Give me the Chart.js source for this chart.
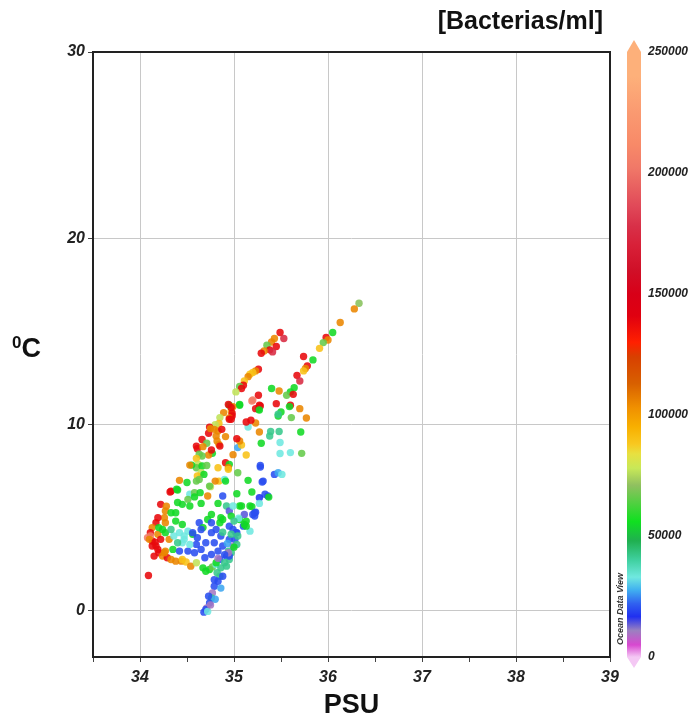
<!DOCTYPE html>
<html>
<head>
<meta charset="utf-8">
<script src="https://cdn.jsdelivr.net/npm/chart.js@4.4.1/dist/chart.umd.min.js"></script>
<style>
  html, body { margin: 0; padding: 0; background: #fff; }
  #wrap { position: relative; width: 700px; height: 722px; font-family: "Liberation Sans", Arial, sans-serif; }
  #titulo { position: absolute; right: 97px; top: 6px; font-size: 25px; font-weight: bold; color: #111; }
  #ylab { position: absolute; left: 12px; top: 333px; font-size: 27px; font-weight: bold; color: #111; }
  #ylab span { font-size: 17px; vertical-align: 9px; }
  #odv { position: absolute; left: 575px; top: 604px; width: 90px; font-size: 9px; font-style: italic; font-weight: bold; color: #333; transform: rotate(-90deg); white-space: nowrap; text-align: center; }
</style>
</head>
<body>
<div id="wrap">
  <canvas id="grafica" width="700" height="722"></canvas>
  <div id="titulo">[Bacterias/ml]</div>
  <div id="ylab"><span>0</span>C</div>
  <div id="odv">Ocean Data View</div>
</div>
<script>
// ejes
const xTicks = [33.5, 34, 34.5, 35, 35.5, 36, 36.5, 37, 37.5, 38, 38.5, 39]
const yTicks = [-2.5, 0, 10, 20, 30]
const cbTicks = [0, 50000, 100000, 150000, 200000, 250000]

// niveles de color (bacterias/ml)
const P = 10000, B = 20000, LB = 27000, C = 33000, T = 42000, G = 55000
const LG = 66000, YG = 77000, Y = 90000, O = 105000, R = 138000, PR = 175000, S = 205000

// salinidad (PSU)
const salinidad = [
  36.33,36.28,36.13,36.05,35.98,36.00,35.95,35.91,35.84,35.74,35.78,35.76,35.74,35.67,35.64,35.70,35.60,35.56,35.63,35.48,
  35.40,35.45,35.50,35.47,35.60,35.59,35.70,35.61,35.77,35.71,35.72,35.60,35.49,35.49,35.48,35.39,35.38,35.29,35.27,35.23,
  35.15,35.18,35.13,35.13,35.04,35.08,35.06,35.03,34.99,35.15,35.04,35.28,35.28,35.31,35.43,35.47,35.51,35.19,35.33,35.27,
  35.36,35.03,35.37,35.30,35.19,35.28,35.26,35.47,
  35.49,35.53,35.43,35.40,35.45,35.35,35.38,35.41,35.32,35.29,35.26,35.23,35.20,35.17,35.15,35.11,35.10,35.06,35.08,35.02,
  35.26,35.20,35.27,35.23,35.27,35.06,34.95,34.97,34.99,34.98,34.98,34.95,34.89,34.85,34.84,34.80,34.74,34.79,34.73,34.83,
  34.81,34.91,34.87,34.95,34.66,34.71,34.60,34.61,34.67,34.82,34.84,34.77,34.85,34.73,34.76,34.63,34.66,34.60,34.62,34.60,
  34.66,34.55,34.53,34.71,34.65,34.61,34.68,34.63,34.60,34.83,34.84,34.91,34.95,34.94,34.90,34.91,34.80,34.50,34.42,34.33,
  34.40,34.53,34.58,34.64,34.72,34.88,34.94,34.97,35.06,34.97,34.75,34.94,34.75,34.39,34.32,34.74,
  34.83,34.22,34.27,34.33,34.38,34.45,34.51,34.53,34.65,34.76,34.86,34.92,34.95,35.06,35.17,35.22,35.13,34.26,34.27,34.17,
  34.13,34.11,34.08,34.13,34.17,34.15,34.20,34.24,34.27,34.19,34.22,34.24,34.31,34.35,34.29,34.33,34.38,34.44,34.49,34.54,
  34.60,34.67,34.74,34.70,34.77,34.09,34.38,34.45,34.51,34.42,34.36,34.47,34.56,34.61,34.63,34.67,34.72,34.76,34.81,34.85,
  34.88,34.95,34.99,35.03,35.10,35.17,35.22,34.42,34.51,34.58,34.65,34.69,34.76,34.83,34.88,34.70,34.79,34.60,34.53,34.45,
  34.92,34.95,34.99,34.94,34.85,34.81,34.86,34.85,34.83,34.79,34.77,34.76,34.74,34.71,34.68,34.70,34.73,34.79,34.82,34.90,
  34.95,34.97,35.01,35.03,35.06,35.11,35.13,34.99,35.08,35.19,35.20,35.23,35.27,35.05,35.11,35.02,35.04,35.00,34.95,34.92,
  34.88,34.19,34.11,34.10,34.16,34.13,34.19,34.26,34.45,34.81,34.20,34.27,34.33,34.40,34.47,34.56,34.65,34.76,34.86,34.94,
  34.97,34.28,34.40,34.58,34.90,34.93,34.97,34.86,34.80,34.72,34.75,34.83,34.88,35.00
]

// temperatura (ºC)
const temperatura = [
  16.50,16.20,15.47,14.93,14.66,14.53,14.39,14.08,13.46,13.64,13.14,13.00,12.87,12.63,11.97,12.33,11.74,11.56,11.61,11.79,
  11.92,11.11,10.66,10.45,11.02,10.95,10.84,10.36,10.34,9.59,8.44,8.48,8.43,9.02,9.61,9.62,9.37,8.98,9.59,10.07,
  9.85,10.22,10.12,8.35,8.75,8.89,9.10,9.23,8.37,6.99,7.40,7.70,7.79,6.95,7.31,7.40,7.31,6.36,6.24,6.06,
  6.15,6.27,6.09,6.90,11.25,10.98,10.81,10.54,
  14.93,14.61,14.61,14.42,14.18,14.25,14.00,13.89,13.94,13.82,12.96,12.87,12.78,12.69,12.56,12.33,12.10,12.03,11.92,11.74,
  11.56,11.31,11.02,10.84,10.77,11.02,11.02,10.72,10.95,10.59,10.45,10.34,10.63,10.36,10.05,9.98,9.85,9.73,9.52,9.64,
  9.37,9.34,9.73,10.27,9.19,8.98,8.83,8.69,8.80,9.10,8.92,8.44,8.83,8.35,8.62,8.39,8.30,8.16,7.85,7.67,
  7.76,7.81,7.81,7.79,7.40,7.22,7.31,7.04,6.95,7.67,6.95,7.94,7.85,7.67,7.04,6.95,6.95,6.87,6.99,6.41,
  6.47,6.24,6.33,6.33,6.15,6.15,11.07,10.90,11.07,10.27,9.77,7.58,6.65,6.51,6.36,6.68,
  5.75,5.70,5.34,5.25,5.25,5.70,5.97,5.61,5.75,5.16,4.98,5.61,5.34,5.61,5.61,5.25,4.80,4.98,4.71,4.71,
  4.45,4.18,3.91,3.73,3.46,2.92,3.10,2.92,3.19,4.09,3.82,4.35,3.82,3.28,2.83,2.74,2.65,2.65,2.60,2.38,
  2.56,2.29,2.20,2.11,2.34,1.88,4.80,4.62,4.26,4.18,4.00,3.82,4.09,3.91,4.71,4.45,4.89,4.18,4.35,4.71,
  4.89,4.53,4.35,4.18,4.53,4.26,5.07,3.19,3.19,3.10,3.28,2.83,3.01,3.19,3.46,3.64,3.64,3.55,3.55,3.64,
  2.92,3.82,3.46,3.19,2.74,2.47,2.29,1.84,1.57,1.30,0.94,0.67,0.40,0.13,-0.09,0.05,0.76,1.65,2.03,2.56,
  2.74,3.10,3.82,3.55,4.89,5.16,4.53,5.61,5.61,5.58,5.16,5.28,5.75,4.95,4.62,4.18,4.00,3.40,2.92,2.38,
  1.84,4.98,4.00,3.82,3.67,3.46,3.28,3.10,2.74,2.56,4.45,4.18,4.35,3.64,4.00,4.18,4.35,4.71,4.00,3.10,
  5.07,5.60,5.80,6.10,3.00,3.60,4.10,1.20,0.60,-0.05,0.30,2.80,4.20,4.80
]

// bacterias/ml
const bacterias = [
  70000,O,O,G,R,O,LG,Y,G,R,R,O,Y,R,G,PR,G,LG,R,O,
  G,R,G,G,R,G,O,LG,O,G,LG,C,C,C,T,T,T,G,O,O,
  C,R,R,Y,LB,Y,O,R,O,G,LG,B,B,B,B,LB,C,G,B,17000,
  B,G,G,B,S,R,G,T,
  R,PR,O,O,R,LG,R,PR,O,R,R,O,Y,Y,O,Y,R,LG,R,YG,
  R,S,R,R,G,G,G,Y,O,R,R,O,O,YG,Y,YG,R,O,R,O,
  O,O,R,R,R,LG,R,R,O,O,O,G,R,O,R,LG,LG,Y,YG,LG,
  G,G,O,LG,YG,Y,G,LG,LG,Y,Y,R,G,O,C,G,O,G,O,R,
  G,C,LG,G,O,B,R,R,G,R,O,Y,YG,G,R,LG,
  G,R,O,G,G,G,LG,G,G,G,G,T,14000,G,G,B,G,O,O,R,
  O,R,S,R,R,R,R,O,O,O,R,G,O,G,R,O,O,O,Y,O,
  YG,G,G,G,LG,R,G,G,C,C,C,C,G,B,B,G,G,B,B,G,
  G,B,B,B,B,C,B,B,B,B,B,B,B,B,B,B,B,B,C,C,
  B,B,P,T,B,C,T,T,B,B,P,T,B,P,B,B,B,B,T,T,
  T,T,B,T,G,14000,G,C,G,G,B,B,C,C,G,B,T,G,B,T,
  B,R,S,O,R,R,R,O,Y,G,G,G,T,T,C,B,B,B,B,P,
  G,O,G,G,B,LB,T,LB,LB,C,P,P,T,T
]

// escala de color tipo ODV
const paradas = [
  [0, [244,200,244]], [5000, [216,72,208]], [11000, [154,128,192]], [16700, [32,48,240]],
  [22000, [48,96,240]], [27700, [64,176,240]], [33000, [112,232,224]], [40000, [64,208,160]],
  [48000, [32,176,80]], [56000, [16,224,32]], [63500, [80,208,64]], [71000, [144,192,96]],
  [78000, [200,232,88]], [84000, [232,224,64]], [88000, [248,200,32]], [95000, [248,176,0]],
  [103000, [240,144,0]], [113000, [216,96,0]], [124000, [216,64,0]], [130000, [255,32,0]],
  [141000, [224,0,16]], [150000, [216,0,24]], [160000, [208,16,40]], [170000, [216,32,56]],
  [178000, [216,48,72]], [186000, [224,72,88]], [194000, [232,96,96]], [202000, [240,120,104]],
  [212000, [248,138,104]], [224000, [250,152,112]], [240000, [253,176,122]], [250000, [253,176,122]]
]

function colorDe(v, a) {
  if (a === undefined) a = 1
  let i = 0
  while (i < paradas.length - 2 && v > paradas[i + 1][0]) i++
  const [v0, c0] = paradas[i], [v1, c1] = paradas[i + 1]
  const t = Math.min(1, Math.max(0, (v - v0) / (v1 - v0)))
  const c = c0.map((x, k) => Math.round(x + (c1[k] - x) * t))
  return `rgba(${c[0]},${c[1]},${c[2]},${a})`
}

const puntos = salinidad.map((s, i) => ({ x: s, y: temperatura[i] }))
const colores = bacterias.map(v => colorDe(v, 0.88))

const fuenteTicks = { family: "Liberation Sans, Arial, sans-serif", size: 15, weight: "bold", style: "italic" }

// marco negro y barra de color
const marco = {
  id: "marco",
  afterDraw(chart) {
    const ctx = chart.ctx, a = chart.chartArea
    ctx.save()
    ctx.strokeStyle = "#222"
    ctx.lineWidth = 2
    ctx.strokeRect(a.left, a.top, a.right - a.left, a.bottom - a.top)

    const cb = chart.scales.cb
    const x0 = a.right + 17, w = 14
    const yTop = cb.getPixelForValue(250000), yBot = cb.getPixelForValue(0)
    const grad = ctx.createLinearGradient(0, yBot, 0, yTop)
    paradas.forEach(p => grad.addColorStop(p[0] / 250000, colorDe(p[0])))
    ctx.fillStyle = grad
    ctx.fillRect(x0, yTop, w, yBot - yTop)
    // flechas
    ctx.fillStyle = colorDe(250000)
    ctx.beginPath()
    ctx.moveTo(x0, yTop); ctx.lineTo(x0 + w / 2, yTop - 12); ctx.lineTo(x0 + w, yTop); ctx.closePath(); ctx.fill()
    ctx.fillStyle = colorDe(0)
    ctx.beginPath()
    ctx.moveTo(x0, yBot); ctx.lineTo(x0 + w / 2, yBot + 11); ctx.lineTo(x0 + w, yBot); ctx.closePath(); ctx.fill()
    ctx.restore()
  }
}

new Chart(document.getElementById("grafica"), {
  type: "scatter",
  data: {
    datasets: [{
      data: puntos,
      backgroundColor: colores,
      borderWidth: 0,
      pointRadius: 3.7,
      pointHoverRadius: 3.7
    }]
  },
  options: {
    responsive: false,
    animation: false,
    layout: { padding: { top: 52, right: 0, bottom: 0, left: 0 } },
    plugins: { legend: { display: false }, tooltip: { enabled: false } },
    scales: {
      x: {
        type: "linear",
        min: 33.5,
        max: 39,
        afterBuildTicks: s => { s.ticks = xTicks.map(v => ({ value: v })) },
        afterFit: s => { s.height = 65 },
        grid: {
          color: c => (c.tick && Number.isInteger(c.tick.value) ? "#c8c8c8" : "rgba(0,0,0,0)"),
          tickColor: "#444",
          tickLength: 5
        },
        border: { display: false },
        ticks: {
          color: "#222",
          font: { family: "Liberation Sans, Arial, sans-serif", size: 16, weight: "bold", style: "italic" },
          padding: 6,
          maxRotation: 0,
          autoSkip: false,
          callback: v => (Number.isInteger(v) ? String(v) : "")
        },
        title: {
          display: true,
          text: "PSU",
          color: "#111",
          font: { family: "Liberation Sans, Arial, sans-serif", size: 27, weight: "bold" },
          padding: { top: 0, bottom: 0 }
        }
      },
      y: {
        type: "linear",
        min: -2.5,
        max: 30,
        afterBuildTicks: s => { s.ticks = yTicks.map(v => ({ value: v })) },
        afterFit: s => { s.width = 93 },
        grid: {
          color: c => (c.tick && c.tick.value >= 0 ? "#c8c8c8" : "rgba(0,0,0,0)"),
          tickColor: c => (c.tick && c.tick.value >= 0 ? "#444" : "rgba(0,0,0,0)"),
          tickLength: 5
        },
        border: { display: false },
        ticks: {
          color: "#222",
          font: { family: "Liberation Sans, Arial, sans-serif", size: 16, weight: "bold", style: "italic" },
          padding: 3,
          callback: v => (v >= 0 ? String(v) : "")
        }
      },
      cb: {
        type: "linear",
        position: "right",
        min: 0,
        max: 250000,
        afterBuildTicks: s => { s.ticks = cbTicks.map(v => ({ value: v })) },
        afterFit: s => { s.width = 90 },
        grid: { drawOnChartArea: false, color: "rgba(0,0,0,0)", tickLength: 30 },
        border: { display: false },
        ticks: {
          color: "#222",
          padding: 8,
          font: { family: "Liberation Sans, Arial, sans-serif", size: 12, weight: "bold", style: "italic" },
          callback: v => String(v)
        }
      }
    }
  },
  plugins: [marco]
})
</script>
</body>
</html>
